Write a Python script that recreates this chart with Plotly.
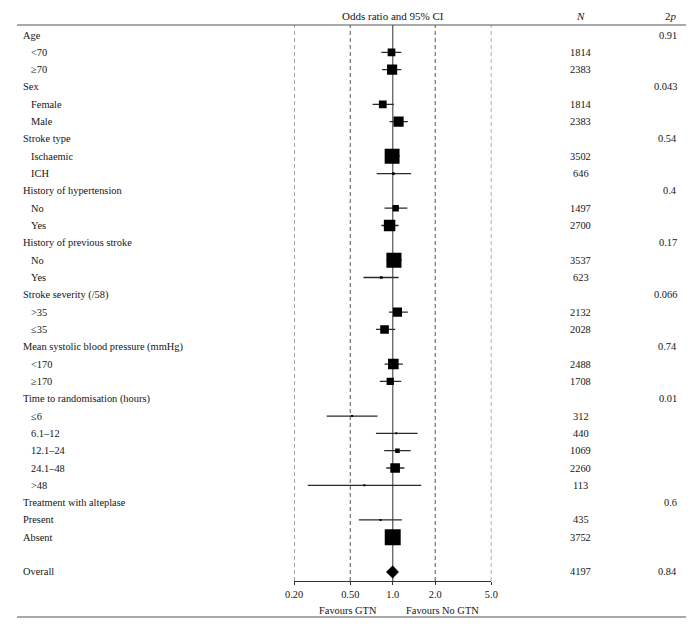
import math
import plotly.graph_objects as go

# ---- data ----
row_labels = ["Age", "<70", "≥70", "Sex", "Female", "Male", "Stroke type", "Ischaemic", "ICH",
              "History of hypertension", "No", "Yes", "History of previous stroke", "No", "Yes",
              "Stroke severity (/58)", ">35", "≤35", "Mean systolic blood pressure (mmHg)", "<170", "≥170",
              "Time to randomisation (hours)", "≤6", "6.1–12", "12.1–24", "24.1–48", ">48",
              "Treatment with alteplase", "Present", "Absent", "", "Overall"]
row_indent = [0, 1, 1, 0, 1, 1, 0, 1, 1, 0, 1, 1, 0, 1, 1, 0, 1, 1, 0, 1, 1, 0, 1, 1, 1, 1, 1, 0, 0, 0, 0, 0]
row_n = ["", "1814", "2383", "", "1814", "2383", "", "3502", "646", "", "1497", "2700", "", "3537", "623",
         "", "2132", "2028", "", "2488", "1708", "", "312", "440", "1069", "2260", "113", "", "435", "3752", "", "4197"]
row_p = ["0.91", "", "", "0.043", "", "", "0.54", "", "", "0.4", "", "", "0.17", "", "", "0.066", "", "",
         "0.74", "", "", "0.01", "", "", "", "", "", "0.6", "", "", "", "0.84"]

# subgroup estimates (row index, OR, lower, upper, N)
sub_rows = [1, 2, 4, 5, 7, 8, 10, 11, 13, 14, 16, 17, 19, 20, 22, 23, 24, 25, 26, 28, 29]
sub_or = [0.98, 0.99, 0.85, 1.10, 0.99, 1.01, 1.05, 0.95, 1.02, 0.83, 1.08, 0.875, 1.01, 0.96,
          0.515, 1.06, 1.08, 1.04, 0.63, 0.82, 1.00]
sub_lo = [0.83, 0.84, 0.72, 0.95, 0.89, 0.77, 0.875, 0.83, 0.90, 0.62, 0.94, 0.76, 0.875, 0.81,
          0.34, 0.76, 0.87, 0.90, 0.25, 0.575, 0.90]
sub_hi = [1.15, 1.15, 1.02, 1.28, 1.12, 1.35, 1.27, 1.10, 1.16, 1.10, 1.28, 1.04, 1.18, 1.15,
          0.78, 1.50, 1.34, 1.21, 1.59, 1.16, 1.10]
sub_n = [1814, 2383, 1814, 2383, 3502, 646, 1497, 2700, 3537, 623, 2132, 2028, 2488, 1708,
         312, 440, 1069, 2260, 113, 435, 3752]

overall_row = 31
overall_or, overall_lo, overall_hi = 1.00, 0.90, 1.10

tick_vals = [0.2, 0.5, 1.0, 2.0, 5.0]
tick_text = ["0.20", "0.50", "1.0", "2.0", "5.0"]

# ---- layout geometry (reference pixel coords; page body has an 8px margin) ----
OFF = 8
W, H = 694 - OFF, 625 - OFF
FONT = "Liberation Serif"
row_px = 17.32
first_row_px = 35 - OFF
axis_px = 581 - OFF
y_top = -first_row_px / row_px
y_bot = y_top + axis_px / row_px
dom_bottom = 1 - axis_px / H
x_left_px, x_right_px = 291.7 - OFF, 493.7 - OFF


def py(ref_px):  # reference pixel -> paper y
    return 1 - (ref_px - OFF) / H


def px(ref_px):  # reference pixel -> paper x
    return (ref_px - OFF) / W


fig = go.Figure()

# CI lines
for i, r in enumerate(sub_rows):
    fig.add_trace(go.Scatter(x=[sub_lo[i], sub_hi[i]], y=[r, r], mode="lines",
                             line=dict(color="#2a2a2a", width=1.3), hoverinfo="skip", showlegend=False))

# squares (size proportional to N)
sizes = [max(n / 235.0, 2.0) for n in sub_n]
fig.add_trace(go.Scatter(x=sub_or, y=sub_rows, mode="markers", opacity=1,
                         marker=dict(symbol="square", size=sizes, color="#000000", opacity=1,
                                     line=dict(width=0, color="#000000")),
                         showlegend=False, hoverinfo="skip"))

# overall diamond
fig.add_trace(go.Scatter(x=[overall_lo, overall_or, overall_hi, overall_or, overall_lo],
                         y=[overall_row, overall_row - 0.36, overall_row, overall_row + 0.36, overall_row],
                         mode="lines", fill="toself", fillcolor="black", line=dict(color="black", width=0.5),
                         showlegend=False, hoverinfo="skip"))

# reference lines
for v in tick_vals:
    if v == 1.0:
        fig.add_shape(type="line", xref="x", yref="paper", x0=v, x1=v, y0=dom_bottom, y1=py(25),
                      line=dict(color="#6e6e6e", width=1.4), layer="below")
    else:
        fig.add_shape(type="line", xref="x", yref="paper", x0=v, x1=v, y0=dom_bottom, y1=py(25),
                      line=dict(color="#555555", width=1, dash="4px,3px"), layer="below")

# horizontal rules
fig.add_shape(type="line", xref="paper", yref="paper", x0=0, x1=1, y0=py(7), y1=py(7),
              line=dict(color="#a8a8a8", width=1.6))
fig.add_shape(type="line", xref="paper", yref="paper", x0=0, x1=1, y0=py(25), y1=py(25),
              line=dict(color="#555555", width=1.2))
fig.add_shape(type="line", xref="paper", yref="paper", x0=0, x1=1, y0=py(617), y1=py(617),
              line=dict(color="#555555", width=1.2))

ann = []
fs = 10.4
for i, lab in enumerate(row_labels):
    if lab:
        ann.append(dict(x=px(12 if row_indent[i] == 0 else 20), y=i, xref="paper", yref="y", text=lab,
                        showarrow=False, xanchor="left", yanchor="middle", font=dict(size=fs)))
    if row_n[i]:
        ann.append(dict(x=px(585), y=i, xref="paper", yref="y", text=row_n[i],
                        showarrow=False, xanchor="center", yanchor="middle", font=dict(size=fs)))
    if row_p[i]:
        ann.append(dict(x=px(686), y=i, xref="paper", yref="y", text=row_p[i],
                        showarrow=False, xanchor="right", yanchor="middle", font=dict(size=fs)))

ann.append(dict(x=px(393), y=py(16), xref="paper", yref="paper", text="Odds ratio and 95% CI",
                showarrow=False, xanchor="center", yanchor="middle", font=dict(size=11)))
ann.append(dict(x=px(585), y=py(16), xref="paper", yref="paper", text="<i>N</i>",
                showarrow=False, xanchor="center", yanchor="middle", font=dict(size=11)))
ann.append(dict(x=px(686), y=py(16), xref="paper", yref="paper", text="2<i>p</i>",
                showarrow=False, xanchor="right", yanchor="middle", font=dict(size=11)))
ann.append(dict(x=px(347), y=py(610), xref="paper", yref="paper", text="Favours GTN",
                showarrow=False, xanchor="center", yanchor="middle", font=dict(size=fs)))
ann.append(dict(x=px(444), y=py(610), xref="paper", yref="paper", text="Favours No GTN",
                showarrow=False, xanchor="center", yanchor="middle", font=dict(size=fs)))

fig.update_layout(
    width=W, height=H, margin=dict(l=0, r=0, t=0, b=0),
    paper_bgcolor="white", plot_bgcolor="white",
    font=dict(family=FONT, color="#151515", size=fs),
    annotations=ann,
    xaxis=dict(type="log", range=[math.log10(0.2), math.log10(5.0)],
               domain=[x_left_px / W, x_right_px / W],
               tickvals=tick_vals, ticktext=tick_text, ticks="outside", ticklen=3, tickcolor="#333",
               showline=True, linecolor="#333", linewidth=1.2, showgrid=False, zeroline=False,
               tickfont=dict(size=fs)),
    yaxis=dict(range=[y_bot, y_top], domain=[dom_bottom, 1], showgrid=False, zeroline=False,
               showticklabels=False, showline=False, ticks=""),
)

fig.write_html("out.html")
